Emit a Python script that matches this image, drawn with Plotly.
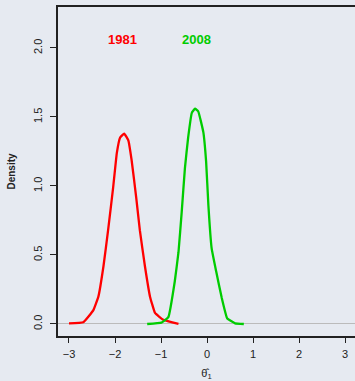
import plotly.graph_objects as go

# Density curve for 1981
x_1981 = [-3.00, -2.69, -2.47, -2.36, -2.25, -2.15, -2.04, -1.96, -1.89, -1.80,
          -1.71, -1.64, -1.54, -1.46, -1.35, -1.24, -1.13, -0.95, -0.62]
y_1981 = [0.005, 0.012, 0.10, 0.20, 0.42, 0.68, 0.99, 1.24, 1.35, 1.38,
          1.33, 1.19, 0.92, 0.68, 0.42, 0.20, 0.08, 0.03, 0.0]

# Density curve for 2008
x_2008 = [-1.30, -0.99, -0.84, -0.70, -0.62, -0.55, -0.48, -0.41, -0.33, -0.26,
          -0.19, -0.08, -0.02, 0.03, 0.10, 0.20, 0.32, 0.44, 0.61, 0.80]
y_2008 = [0.0, 0.01, 0.05, 0.31, 0.52, 0.81, 1.13, 1.35, 1.53, 1.56,
          1.54, 1.39, 1.18, 0.86, 0.55, 0.38, 0.19, 0.04, 0.005, 0.0]

labels = ["1981", "2008"]
label_x = [-1.83, -0.22]
label_y = [2.06, 2.06]
colors = ["#ff0000", "#00cc00"]

x_ticks = [-3, -2, -1, 0, 1, 2, 3]
y_ticks = [0.0, 0.5, 1.0, 1.5, 2.0]

BG = "#e6eaf1"

fig = go.Figure()
fig.add_trace(go.Scatter(x=x_1981, y=y_1981, mode="lines",
                         line=dict(color=colors[0], width=2.3, shape="spline", smoothing=0.3),
                         showlegend=False, hoverinfo="skip"))
fig.add_trace(go.Scatter(x=x_2008, y=y_2008, mode="lines",
                         line=dict(color=colors[1], width=2.3, shape="spline", smoothing=0.3),
                         showlegend=False, hoverinfo="skip"))

for t, xx, yy, c in zip(labels, label_x, label_y, colors):
    fig.add_annotation(x=xx, y=yy, text=t, showarrow=False,
                       font=dict(family="Liberation Sans", size=13, color=c, weight="bold"))

fig.update_layout(
    width=355, height=381,
    margin=dict(l=58, r=0, t=7, b=45),
    paper_bgcolor=BG, plot_bgcolor=BG,
    font=dict(family="Liberation Sans", size=11, color="#222222"),
    xaxis=dict(range=[-3.239, 3.217], tickvals=x_ticks,
               ticktext=[("\u2212" + str(-v)) if v < 0 else str(v) for v in x_ticks],
               showgrid=False, zeroline=False,
               showline=True, linecolor="#222222", linewidth=1.5, mirror=True,
               ticks="outside", ticklen=5, tickcolor="#222222",
               ticklabelstandoff=2,
               title=dict(text="\u03b8\u0302<sub>1</sub>", standoff=13,
                          font=dict(size=11))),
    yaxis=dict(range=[-0.087, 2.297], tickvals=y_ticks,
               ticktext=[f"{v:.1f}" for v in y_ticks], tickangle=-90,
               showgrid=False, zeroline=True, zerolinecolor="#bbbbbb", zerolinewidth=1,
               showline=True, linecolor="#222222", linewidth=1.5,
               ticks="outside", ticklen=6, tickcolor="#222222",
               ticklabelstandoff=4,
               title=dict(text="<b>Density</b>", standoff=14,
                          font=dict(size=10))),
)

fig.write_html("out.html")
